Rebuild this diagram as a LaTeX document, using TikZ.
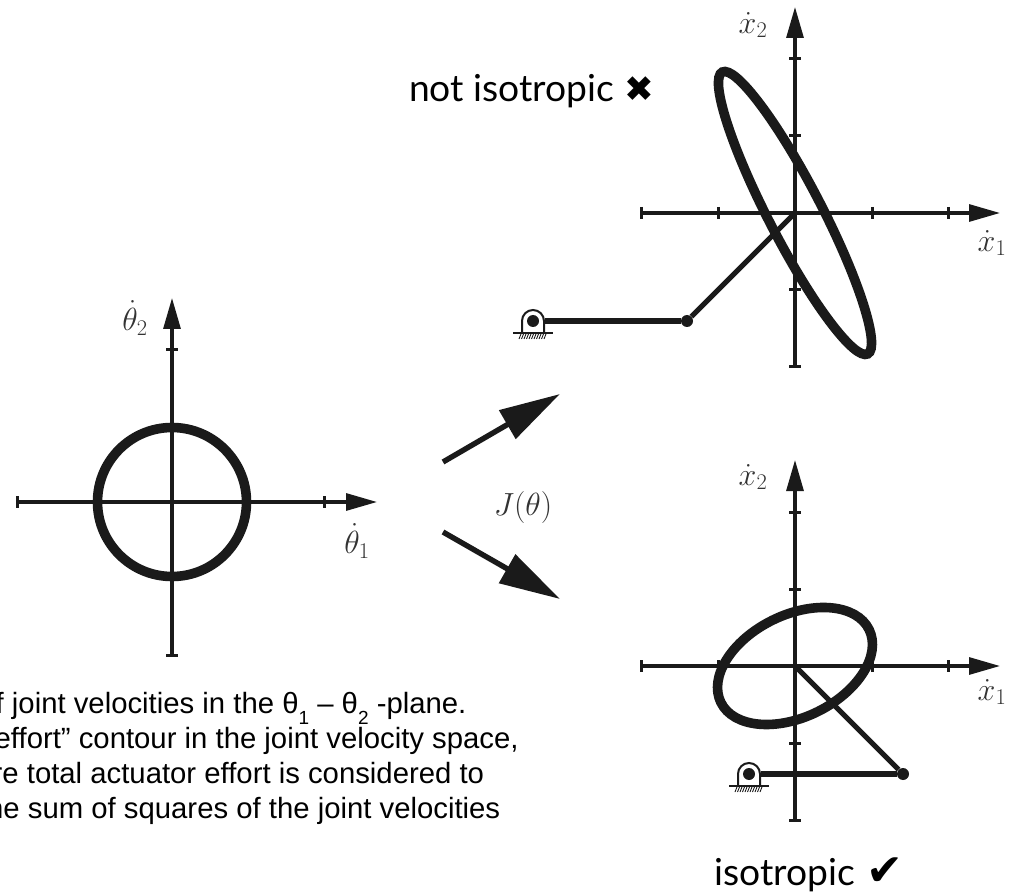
\RequirePackage{fix-cm}
\documentclass[tikz,border=0pt]{standalone}
\usepackage{fontspec}
\setmainfont{Liberation Sans}
\newfontfamily\latofont{Lato}
\newfontfamily\symfont{DejaVu Sans}
\usetikzlibrary{arrows.meta}
\definecolor{ink}{HTML}{1A1A1A}
\tikzset{
  axisline/.style={draw=ink,line width=3.1pt,-{Triangle[length=31pt,width=17pt]}},
  tickmark/.style={draw=ink,line width=3pt},
  contour/.style={draw=ink,line width=9.6pt},
  linkbar/.style={draw=ink,line width=5.2pt},
  bigarrow/.style={draw=ink,line width=5.4pt,-{Triangle[length=61pt,width=32pt]}},
  axlabel/.style={font=\fontsize{32}{35}\selectfont,text=black!80,inner sep=0pt},
  caption/.style={font=\fontsize{29.3}{32}\selectfont,anchor=base west,inner sep=0pt},
  verdict/.style={font=\latofont\fontsize{37.2}{40}\selectfont,anchor=base west,inner sep=0pt},
  jointdot/.style={circle,fill=ink,inner sep=0pt,minimum size=12pt},
  pinzone/.style={circle,inner sep=0pt,minimum size=23pt},
}
% #1 name prefix, #2 origin x, #3 origin y
\newcommand{\axesset}[3]{%
  \coordinate (#1o) at (#2,#3);
  \coordinate (#1w) at (#2-154,#3);
  \coordinate (#1e) at (#2+205,#3);
  \coordinate (#1s) at (#2,#3+154);
  \coordinate (#1n) at (#2,#3-206);
  \draw[axisline] (#1w) -- (#1e);
  \draw[axisline] (#1s) -- (#1n);
  \foreach \dx in {-154,-77,77,153}{\draw[tickmark] (#2+\dx,#3-6) -- (#2+\dx,#3+6);}
  \foreach \dy in {-154,-77,77,154}{\draw[tickmark] (#2-6,#3+\dy) -- (#2+6,#3+\dy);}
}
% #1 name, #2 pin x, #3 pin y
\newcommand{\basepin}[3]{%
  \draw[ink,line width=2pt] (#2-11,#3+12) -- (#2-11,#3) arc[start angle=180,end angle=360,radius=11] -- (#2+11,#3+12);
  \draw[ink,line width=2pt] (#2-20,#3+12) -- (#2+20,#3+12);
  \foreach \hx in {-14,-11.5,...,12}{\draw[ink,line width=.9pt] (#2+\hx,#3+18) -- (#2+\hx+2,#3+13);}
  \node[jointdot] (#1dot) at (#2,#3) {};
  \node[pinzone] (#1) at (#2,#3) {};
}
\begin{document}
\begin{tikzpicture}[x=1pt,y=-1pt]
\useasboundingbox (0,0) rectangle (1010,893);

% left axes
\coordinate (lo) at (172,502);
\coordinate (lw) at (17,502);
\coordinate (le) at (377,502);
\coordinate (ls) at (172,655);
\coordinate (ln) at (172,298);
\draw[axisline] (lw) -- (le);
\draw[axisline] (ls) -- (ln);
\foreach \tx in {17,324}{\draw[tickmark] (\tx,496) -- (\tx,508);}
\foreach \ty in {350,655}{\draw[tickmark] (166,\ty) -- (178,\ty);}
\draw[contour] (lo) circle[radius=74.5];
\node[axlabel] (lt2) at (135,318) {$\dot\theta_2$};
\node[axlabel] (lt1) at (357,541) {$\dot\theta_1$};

% top right axes
\axesset{a}{795}{213}
\draw[contour,rotate around={-62.7:(ao)}] (ao) ellipse[x radius=158.6,y radius=26.8];
\node[axlabel] (ax2) at (753,25) {$\dot x_2$};
\node[axlabel] (ax1) at (992,243) {$\dot x_1$};
\basepin{apin}{533}{321}
\node[jointdot] (ajoint) at (687,321) {};
\draw[linkbar] (apin) -- (ajoint);
\draw[linkbar] (ajoint) -- (ao);

% bottom right axes
\axesset{b}{795}{666}
\draw[contour,rotate around={26.2:(bo)}] (bo) ellipse[x radius=82.6,y radius=51];
\node[axlabel] (bx2) at (753,477) {$\dot x_2$};
\node[axlabel] (bx1) at (992,692) {$\dot x_1$};
\basepin{bpin}{749}{774}
\node[jointdot] (bjoint) at (903,774) {};
\draw[linkbar] (bpin) -- (bjoint);
\draw[linkbar] (bjoint) -- (bo);

% mapping arrows
\coordinate (m1a) at (443,462);
\coordinate (m1b) at (560,394);
\coordinate (m2a) at (443,532);
\coordinate (m2b) at (560,599);
\draw[bigarrow] (m1a) -- (m1b);
\draw[bigarrow] (m2a) -- (m2b);
\node[axlabel] (jlabel) at (523,507) {$J(\theta)$};

% verdicts
\node[verdict] (v1) at (409,102) {not isotropic\hspace{10pt}{\symfont\fontsize{35.5}{38}\selectfont ✖}};
\node[verdict] (v2) at (714,885) {isotropic\hspace{12pt}{\symfont\fontsize{44}{46}\selectfont ✔}};

% caption
\node[caption] (c1) at (-4.5,713) {f joint velocities in the θ\raisebox{-11pt}{\fontsize{19}{20}\selectfont 1} – θ\raisebox{-11pt}{\fontsize{19}{20}\selectfont 2} -plane.};
\node[caption] (c2) at (-5.5,748) {effort” contour in the joint velocity space,};
\node[caption] (c3) at (-7.5,783) {re total actuator effort is considered to};
\node[caption] (c4) at (-13,818) {he sum of squares of the joint velocities};
\end{tikzpicture}
\end{document}
